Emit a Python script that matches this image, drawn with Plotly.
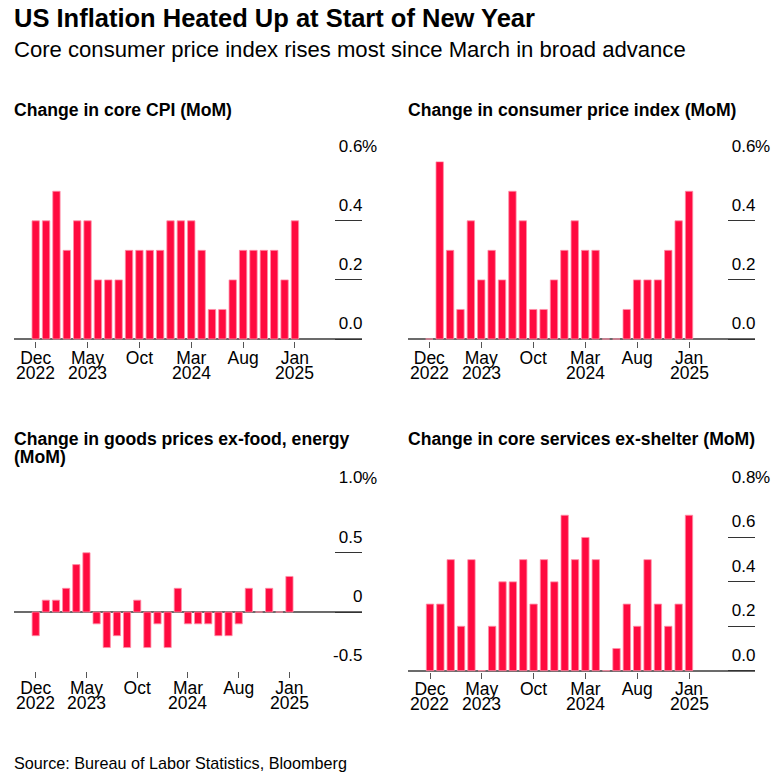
import plotly.graph_objects as go

W, H = 777, 773
FONT = "Liberation Sans, Arial, sans-serif"
RED = "#ff0a3f"

# ---- data (Dec 2022 .. Jan 2025, monthly % change) ----
months = ["Dec 2022", "Jan 2023", "Feb 2023", "Mar 2023", "Apr 2023", "May 2023", "Jun 2023",
          "Jul 2023", "Aug 2023", "Sep 2023", "Oct 2023", "Nov 2023", "Dec 2023",
          "Jan 2024", "Feb 2024", "Mar 2024", "Apr 2024", "May 2024", "Jun 2024",
          "Jul 2024", "Aug 2024", "Sep 2024", "Oct 2024", "Nov 2024", "Dec 2024", "Jan 2025"]
core_cpi = [0.4, 0.4, 0.5, 0.3, 0.4, 0.4, 0.2, 0.2, 0.2, 0.3, 0.3, 0.3, 0.3,
            0.4, 0.4, 0.4, 0.3, 0.1, 0.1, 0.2, 0.3, 0.3, 0.3, 0.3, 0.2, 0.4]
headline_cpi = [0.0, 0.6, 0.3, 0.1, 0.4, 0.2, 0.3, 0.2, 0.5, 0.4, 0.1, 0.1, 0.2,
                0.3, 0.4, 0.3, 0.3, 0.0, 0.0, 0.1, 0.2, 0.2, 0.2, 0.3, 0.4, 0.5]
core_goods = [-0.2, 0.1, 0.1, 0.2, 0.4, 0.5, -0.1, -0.3, -0.2, -0.3, 0.1, -0.3, -0.1,
              -0.3, 0.2, -0.1, -0.1, -0.1, -0.2, -0.2, -0.1, 0.2, 0.0, 0.2, 0.0, 0.3]
supercore = [0.3, 0.3, 0.5, 0.2, 0.5, 0.0, 0.2, 0.4, 0.4, 0.5, 0.3, 0.5, 0.4,
             0.7, 0.5, 0.6, 0.5, 0.0, 0.1, 0.3, 0.2, 0.5, 0.3, 0.2, 0.3, 0.7]

tick_idx = [0, 5, 10, 15, 20, 25]
tick_months = ["Dec", "May", "Oct", "Mar", "Aug", "Jan"]
tick_years = ["2022", "2023", "", "2024", "", "2025"]

titles = ["Change in core CPI (MoM)",
          "Change in consumer price index (MoM)",
          "Change in goods prices ex-food, energy<br>(MoM)",
          "Change in core services ex-shelter (MoM)"]

y_ticks = [[0, 0.2, 0.4, 0.6], [0, 0.2, 0.4, 0.6], [-0.5, 0, 0.5, 1.0], [0, 0.2, 0.4, 0.6, 0.8]]
y_text = [["0.0", "0.2", "0.4", "0.6"], ["0.0", "0.2", "0.4", "0.6"],
          ["-0.5", "0", "0.5", "1.0"], ["0.0", "0.2", "0.4", "0.6", "0.8"]]
series = [core_cpi, headline_cpi, core_goods, supercore]

# ---- layout geometry (pixels) ----
# x: (left px, right px, px of first bar, px per month)
geo_x = [(14, 362, 35.7, 10.37), (408, 755, 429.3, 10.39),
         (14, 362, 35.7, 10.15), (408, 755, 430.0, 10.36)]
# y: (px of zero, px per unit, range lo, range hi)
geo_y = [(339, 295.5, -0.006, 0.601), (339, 295.5, -0.006, 0.601),
         (612, 118.5, -0.501, 1.001), (670.7, 222.1, -0.006, 0.801)]

fig = go.Figure()
layout = dict(width=W, height=H, margin=dict(l=0, r=0, t=0, b=0, autoexpand=False),
              paper_bgcolor="white", plot_bgcolor="white",
              font=dict(family=FONT, color="#000"), showlegend=False,
              bargap=0.29, annotations=[])

idx = list(range(len(months)))
for i in range(4):
    n = "" if i == 0 else str(i + 1)
    xl, xr, x0, kx = geo_x[i]
    p0, ky, lo, hi = geo_y[i]
    xlo = (xl - x0) / kx
    xhi = (xr - x0) / kx
    ytop = p0 - hi * ky
    ybot = p0 - lo * ky
    fig.add_trace(go.Bar(x=idx, y=series[i], xaxis="x" + n, yaxis="y" + n,
                         marker=dict(color=RED, line=dict(color="#ff8fa8", width=0.8)),
                         hovertext=months, hoverinfo="text+y"))
    layout["xaxis" + n] = dict(domain=[xl / W, xr / W], anchor="y" + n, range=[xlo, xhi],
                               tickmode="array", tickvals=tick_idx, ticktext=tick_months,
                               ticks="outside", ticklen=6, tickwidth=1.3, tickcolor="#555",
                               ticklabelstandoff=-5,
                               tickfont=dict(size=17.5, family=FONT, color="#000"),
                               automargin=False,
                               showgrid=False, zeroline=False, showline=False, fixedrange=True)
    layout["yaxis" + n] = dict(domain=[1 - ybot / H, 1 - ytop / H], anchor="x" + n,
                               range=[lo, hi], side="right", automargin=False,
                               tickmode="array", tickvals=y_ticks[i], ticktext=y_text[i],
                               ticks="inside", ticklen=27, tickwidth=1.2, tickcolor="#333",
                               ticklabelposition="inside", ticklabelshift=-16,
                               ticklabelstandoff=-27, ticklabeloverflow="allow",
                               tickfont=dict(size=17, family=FONT, color="#000"),
                               showgrid=False, zeroline=True, zerolinecolor="#6b6b6b",
                               zerolinewidth=1.5, showline=False, fixedrange=True)
    # hanging percent sign on the top label
    layout["annotations"].append(dict(
        text="%", xref=("x" + n + " domain"), x=1, xanchor="left",
        yref="y" + n, y=y_ticks[i][-1], yanchor="middle", yshift=15.5, xshift=-2,
        showarrow=False, font=dict(size=17, family=FONT, color="#000")))
    # year line of the two-line date labels
    for tv, yr in zip(tick_idx, tick_years):
        if yr:
            layout["annotations"].append(dict(
                text=yr, xref="x" + n, x=tv, xanchor="center",
                yref="y" + n + " domain", y=0, yanchor="middle", yshift=-32,
                showarrow=False, font=dict(size=17.5, family=FONT, color="#000")))

# panel titles
title_pos = [(12, 110.2), (406, 110.2), (12, 439.2), (406, 439.2)]
for t, (px, py) in zip(titles, title_pos):
    lines = t.split("<br>")
    for j, line in enumerate(lines):
        layout["annotations"].append(dict(
            text="<b>%s</b>" % line, xref="paper", yref="paper",
            x=px / W, y=1 - (py + 17.7 * j) / H, xanchor="left", yanchor="middle",
            showarrow=False, font=dict(size=17.6, family=FONT, color="#000")))

layout["annotations"] += [
    dict(text="<b>US Inflation Heated Up at Start of New Year</b>", xref="paper", yref="paper",
         x=12 / W, y=1 - 18.0 / H, xanchor="left", yanchor="middle", showarrow=False,
         font=dict(size=25.5, family=FONT, color="#000")),
    dict(text="Core consumer price index rises most since March in broad advance",
         xref="paper", yref="paper", x=12 / W, y=1 - 49.8 / H, xanchor="left",
         yanchor="middle", showarrow=False, font=dict(size=22.1, family=FONT, color="#000")),
    dict(text="Source: Bureau of Labor Statistics, Bloomberg", xref="paper", yref="paper",
         x=12 / W, y=1 - 762.5 / H, xanchor="left", yanchor="middle", showarrow=False,
         font=dict(size=16.2, family=FONT, color="#000")),
]

fig.update_layout(**layout)
# pin the figure to the top-left corner of the page so it fills the window exactly
page_fix = ("document.body.style.margin='0';"
            "var gd=document.getElementById('{plot_id}');"
            "gd.style.position='fixed';gd.style.top='0px';gd.style.left='0px';")
fig.write_html("out.html", config={"displayModeBar": False}, post_script=page_fix)
